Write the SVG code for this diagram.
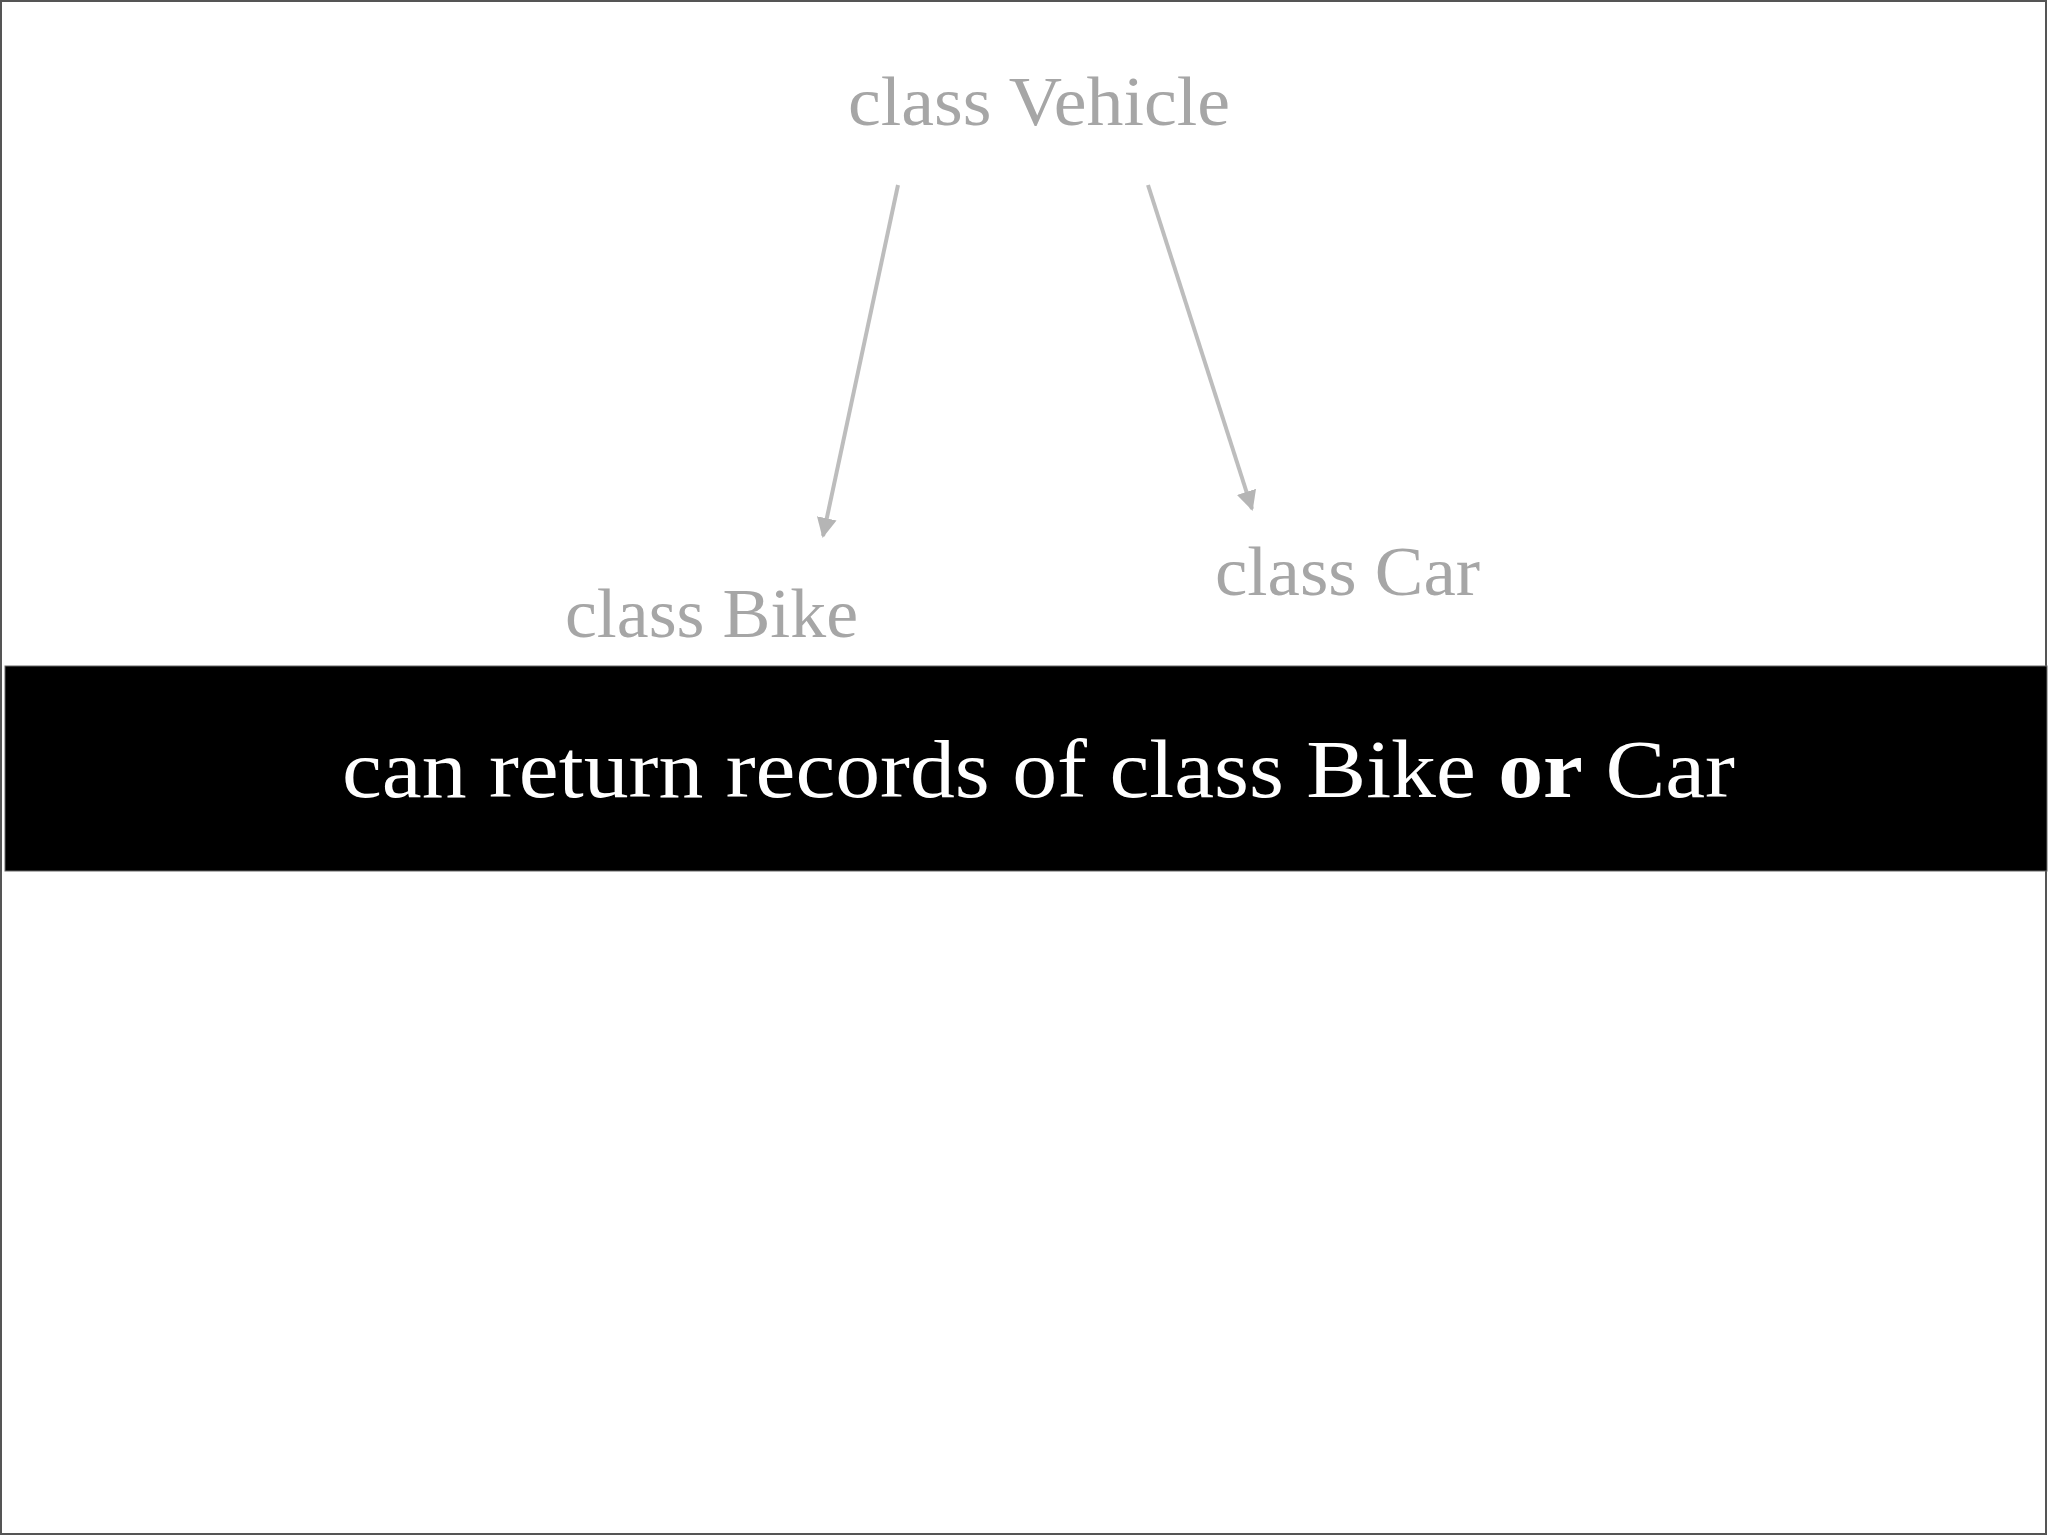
<svg xmlns="http://www.w3.org/2000/svg" width="2048" height="1536" viewBox="0 0 2048 1536">
<style>
.lbl{font-family:Georgia,"Liberation Serif",serif;font-size:70px;fill:#a6a6a6}
.band{font-family:Georgia,"Liberation Serif",serif;font-size:82px;fill:#ffffff}
.conn{stroke:#bdbdbd;stroke-width:4;fill:none}
</style>
<defs>
<marker id="ah" viewBox="0 0 10 10" refX="9" refY="5" markerWidth="5" markerHeight="5" orient="auto" markerUnits="strokeWidth">
<path d="M0,0 L10,5 L0,10 z" fill="#b5b5b5"/>
</marker>
</defs>
<rect x="0" y="0" width="2048" height="1536" fill="#ffffff"/>
<rect x="1" y="1" width="2045" height="1533" fill="none" stroke="#555555" stroke-width="2"/>
<g id="connectors">
<line class="conn" x1="898" y1="185" x2="823" y2="536" marker-end="url(#ah)"/>
<line class="conn" x1="1148" y1="185" x2="1252" y2="509" marker-end="url(#ah)"/>
</g>
<g id="vehicle"><text class="lbl" x="848" y="125" textLength="382" lengthAdjust="spacingAndGlyphs">class Vehicle</text></g>
<g id="bike"><text class="lbl" x="565" y="637" textLength="293" lengthAdjust="spacingAndGlyphs">class Bike</text></g>
<g id="car"><text class="lbl" x="1215" y="595" textLength="265" lengthAdjust="spacingAndGlyphs">class Car</text></g>
<g id="banner">
<rect x="5" y="666" width="2042" height="205" fill="#000000" stroke="#666666" stroke-width="1"/>
<text class="band" x="342" y="797" textLength="1393" lengthAdjust="spacingAndGlyphs">can return records of class Bike <tspan font-weight="bold">or</tspan> Car</text>
</g>
</svg>
